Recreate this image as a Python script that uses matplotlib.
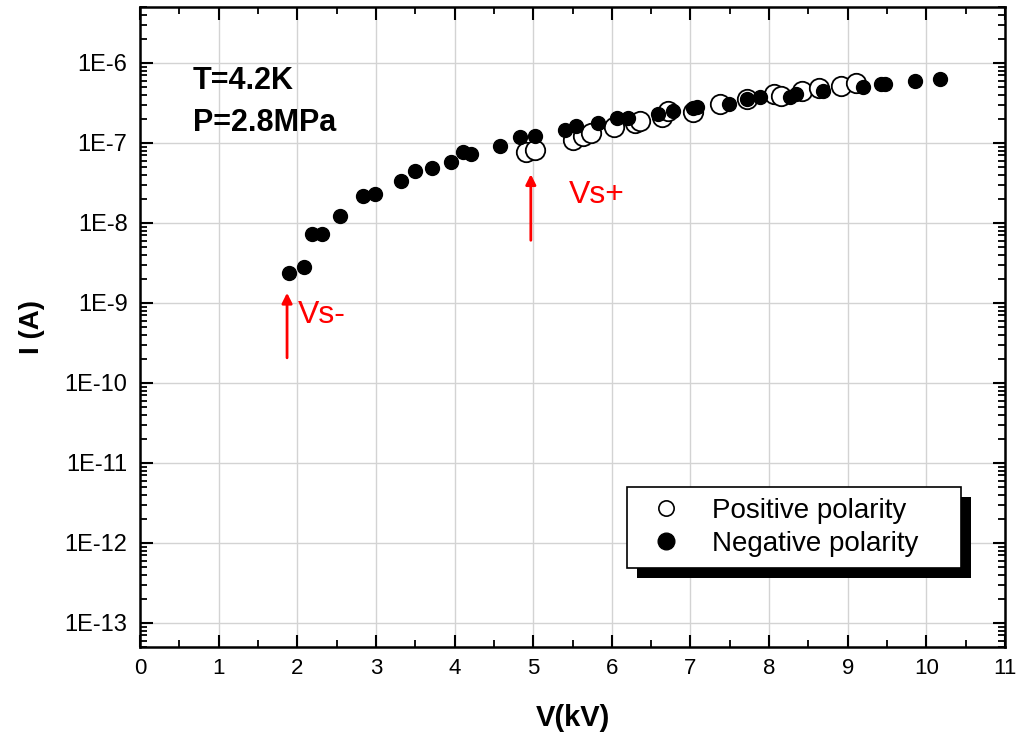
import matplotlib
matplotlib.use("Agg")
import matplotlib.pyplot as plt
import matplotlib.patches as patches
from matplotlib.lines import Line2D
from matplotlib.ticker import LogLocator, MultipleLocator, FixedLocator
import numpy as np

plt.rcParams['font.family'] = ['Liberation Sans', 'DejaVu Sans']

# Negative polarity (filled)
v_neg = [1.90, 2.08, 2.19, 2.32, 2.54, 2.83, 2.99, 3.32, 3.50, 3.71, 3.96, 4.11, 4.21,
         4.58, 4.83, 5.02, 5.40, 5.55, 5.82, 6.06, 6.21, 6.59, 6.78, 7.03, 7.08, 7.49,
         7.72, 7.89, 8.27, 8.34, 8.69, 9.19, 9.42, 9.48, 9.85, 10.17]
i_neg = [2.4e-9, 2.8e-9, 7.3e-9, 7.3e-9, 1.22e-8, 2.2e-8, 2.3e-8, 3.3e-8, 4.5e-8, 4.9e-8,
         5.7e-8, 7.6e-8, 7.2e-8, 9.1e-8, 1.18e-7, 1.23e-7, 1.47e-7, 1.61e-7, 1.78e-7,
         2.05e-7, 2.05e-7, 2.3e-7, 2.5e-7, 2.75e-7, 2.8e-7, 3.1e-7, 3.55e-7, 3.8e-7,
         3.8e-7, 4.1e-7, 4.4e-7, 5.0e-7, 5.5e-7, 5.5e-7, 6.0e-7, 6.35e-7]

# Positive polarity (open)
v_pos = [4.91, 5.02, 5.50, 5.63, 5.73, 6.03, 6.29, 6.36, 6.64, 6.72, 7.03, 7.38, 7.72,
         8.06, 8.15, 8.42, 8.64, 8.91, 9.10]
i_pos = [7.6e-8, 8.1e-8, 1.1e-7, 1.21e-7, 1.33e-7, 1.58e-7, 1.78e-7, 1.86e-7, 2.1e-7,
         2.5e-7, 2.45e-7, 3.1e-7, 3.5e-7, 4.1e-7, 3.9e-7, 4.45e-7, 4.9e-7, 5.2e-7, 5.6e-7]

y_ticks = [1e-13, 1e-12, 1e-11, 1e-10, 1e-9, 1e-8, 1e-7, 1e-6]
y_labels = ['1E-13', '1E-12', '1E-11', '1E-10', '1E-9', '1E-8', '1E-7', '1E-6']

fig = plt.figure(figsize=(10.16, 7.41), dpi=100)
ax = fig.add_axes([140/1016, 1-647/741, 865/1016, 640/741])

ax.set_yscale('log')
ax.set_xlim(0, 11)
ax.set_ylim(5e-14, 5e-6)

ax.plot(v_pos, i_pos, 'o', ms=14, mfc='white', mec='black', mew=1.3, ls='none', zorder=3)
ax.plot(v_neg, i_neg, 'o', ms=10, mfc='black', mec='black', ls='none', zorder=4)

# ticks
ax.xaxis.set_major_locator(MultipleLocator(1))
ax.xaxis.set_minor_locator(MultipleLocator(0.5))
ax.yaxis.set_major_locator(FixedLocator(y_ticks))
ax.set_yticklabels(y_labels)
ax.yaxis.set_minor_locator(LogLocator(base=10, subs=np.arange(2, 10), numticks=30))
ax.yaxis.set_minor_formatter(plt.NullFormatter())
ax.tick_params(which='both', direction='in', top=True, right=True)
ax.tick_params(which='major', length=9, width=1.5)
ax.tick_params(which='minor', length=5, width=1.3)
ax.tick_params(axis='y', labelsize=17, pad=9)
ax.tick_params(axis='x', labelsize=16, pad=8)
for s in ax.spines.values():
    s.set_linewidth(1.8)

ax.grid(True, which='major', color='#d3d3d3', lw=1.0, zorder=0)
ax.set_axisbelow(True)

ax.set_xlabel('V(kV)', fontsize=21, fontweight='bold', labelpad=18)
ax.set_ylabel('I (A)', fontsize=20, fontweight='bold', labelpad=14)

# conditions
ax.text(0.061, 0.884, 'T=4.2K', transform=ax.transAxes, fontsize=22, fontweight='bold', va='center')
ax.text(0.061, 0.8195, 'P=2.8MPa', transform=ax.transAxes, fontsize=22, fontweight='bold', va='center')

# arrows
ax.annotate('', xy=(1.87, 1.45e-9), xytext=(1.87, 1.9e-10),
            arrowprops=dict(arrowstyle='-|>', color='red', lw=2, mutation_scale=15))
ax.annotate('', xy=(4.97, 4.4e-8), xytext=(4.97, 5.6e-9),
            arrowprops=dict(arrowstyle='-|>', color='red', lw=2, mutation_scale=15))
ax.text(2.01, 10**-9.15, 'Vs-', color='red', fontsize=23, va='center')
ax.text(5.45, 10**-7.65, 'Vs+', color='red', fontsize=23, va='center')

# legend
handles = [Line2D([], [], marker='o', ls='none', ms=11, mfc='white', mec='black', mew=1.2),
           Line2D([], [], marker='o', ls='none', ms=12, mfc='black', mec='black')]
leg = ax.legend(handles, ['Positive polarity', 'Negative polarity'], loc='upper left',
                bbox_to_anchor=(0.563, 0.117, 0.386, 0.133), mode='expand',
                borderaxespad=0, fontsize=20, fancybox=False, framealpha=1,
                edgecolor='black', handlelength=2.0, handletextpad=0.65,
                borderpad=0.4, labelspacing=0.25)
leg.get_frame().set_linewidth(1.2)
leg.set_zorder(6)

fig.canvas.draw()
bb = leg.get_window_extent().transformed(ax.transAxes.inverted())
dx = 10 / 865
dy = 10 / 640
shadow = patches.Rectangle((bb.x0 + dx, bb.y0 - dy), bb.width, bb.height,
                           transform=ax.transAxes, facecolor='black', edgecolor='none',
                           zorder=5.5, clip_on=False)
ax.add_patch(shadow)

fig.savefig('out.png', dpi=100)
